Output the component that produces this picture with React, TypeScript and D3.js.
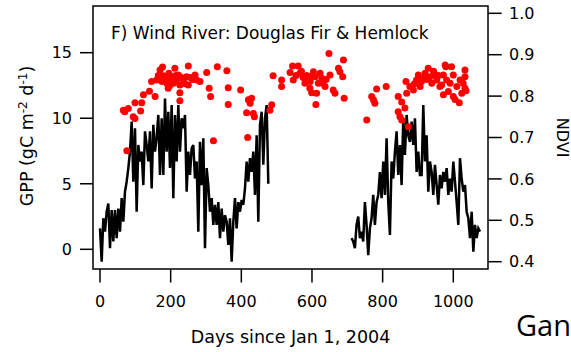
import React from "react";
import * as d3 from "d3";

// Daily GPP (gC m-2 d-1), two measurement periods sampled evenly between start and end day
const gppSeg1Start = 0;
const gppSeg1End = 476.4;
const gppSeg1 = [
  1.6, -0.95, 2.37, 1.35, 2.87, 3.5, 0.08, 3.0, 0.6, 3.0,
  0.85, 3.1, 1.35, 3.9, 2.1, 4.4, 5.16, 6.2, 7.45, 9.75,
  5.16, 9.24, 2.87, 7.96, 6.7, 7.45, 4.9, 9.0, 7.96, 6.7,
  9.0, 4.65, 9.5, 7.45, 8.5, 10.25, 5.67, 10.0, 5.67, 11.5,
  7.45, 10.5, 6.2, 11.0, 3.9, 10.25, 6.7, 11.0, 7.45, 10.0,
  9.24, 10.25, 4.4, 7.45, 5.67, 7.7, 7.96, 5.4, 6.7, 1.35,
  8.2, 4.9, 8.47, 0.08, 6.2, 4.9, 2.87, 3.9, 1.86, 3.4,
  1.86, 3.6, 0.85, 3.1, 1.35, 2.6, 2.1, 0.33, 2.37, -0.95,
  2.1, 3.9, 1.6, 3.6, 2.87, 3.76, 3.4, 4.65, 6.7, 5.16,
  6.95, 5.9, 7.45, 4.15, 8.7, 2.1, 9.5, 10.5, 6.45, 10.0,
  11.0, 5.0,
];

const gppSeg2Start = 712;
const gppSeg2End = 1075.6;
const gppSeg2 = [
  0.85, 0.6, 0.08, 1.86, 2.5, 0.85, 1.35, 0.6, 3.6, 1.86,
  -0.44, 1.6, 2.37, 4.15, 1.86, 3.6, 4.15, 5.9, 3.9, 6.7,
  4.15, 8.47, 3.6, 1.1, 6.7, 5.4, 7.45, 9.0, 5.67, 7.96,
  4.9, 10.0, 7.2, 10.25, 8.7, 8.2, 9.75, 7.96, 10.0, 5.9,
  7.45, 5.67,
  5.67, 11.0, 6.7, 8.7, 4.4, 6.7, 5.9, 4.15, 6.45, 4.9,
  3.4, 5.67, 4.65, 5.9, 5.16, 6.2, 4.15, 5.4, 4.4, 6.7,
  5.16, 3.6, 1.86, 6.95, 5.4, 4.4, 4.9, 2.87, 2.37, 0.85,
  2.87, -0.18, 1.86, 0.85, 1.6, 1.35,
];

// NDVI observations: [day, ndvi]
const ndvi2004: [number, number][] = [
  [66, 0.766], [70, 0.762], [76, 0.668], [80, 0.77], [94, 0.75], [99, 0.746],
  [99, 0.784], [115, 0.764], [118, 0.784], [123, 0.803], [140, 0.812],
  [146, 0.835], [156, 0.799], [160, 0.839], [165, 0.85], [170, 0.863],
  [175, 0.835], [177, 0.87], [179, 0.849], [185, 0.843], [189, 0.831],
  [193, 0.819], [195, 0.855], [197, 0.825], [198, 0.84], [203, 0.847],
  [208, 0.831], [212, 0.867], [215, 0.85], [217, 0.839], [222, 0.851],
  [226, 0.827], [226, 0.808], [226, 0.789], [230, 0.845], [236, 0.841],
  [240, 0.83], [245, 0.847], [250, 0.873], [250, 0.827], [255, 0.845],
  [262, 0.84], [269, 0.851], [274, 0.839], [283, 0.835], [302, 0.857],
  [309, 0.819], [313, 0.799], [321, 0.692], [332, 0.871], [359, 0.861],
  [363, 0.82], [363, 0.78], [398, 0.815], [415, 0.76], [418, 0.7],
  [420, 0.791], [425, 0.783], [429, 0.795], [434, 0.758], [437, 0.75],
  [481, 0.766], [486, 0.779], [490, 0.849],
];

const ndvi2005: [number, number][] = [
  [514, 0.839], [514, 0.823], [538, 0.857], [545, 0.873], [547, 0.839],
  [555, 0.85], [561, 0.873], [566, 0.855], [570, 0.86], [575, 0.845],
  [580, 0.831], [585, 0.85], [590, 0.841], [594, 0.819], [595, 0.835],
  [599, 0.808], [600, 0.85], [604, 0.859], [609, 0.847], [611, 0.78],
  [613, 0.807], [618, 0.831], [623, 0.855], [628, 0.843], [630, 0.831],
  [637, 0.823], [640, 0.84], [648, 0.903], [651, 0.851], [660, 0.815],
  [665, 0.807], [675, 0.867], [679, 0.859], [687, 0.847], [689, 0.887],
  [691, 0.795],
];

const ndvi2006: [number, number][] = [
  [755, 0.742], [769, 0.799], [774, 0.791], [778, 0.783], [783, 0.817],
  [810, 0.823], [844, 0.799], [844, 0.762], [849, 0.75], [854, 0.786],
  [854, 0.742], [863, 0.771], [866, 0.835], [868, 0.807], [873, 0.726],
  [877, 0.823], [887, 0.815], [890, 0.83], [896, 0.839], [901, 0.851],
  [906, 0.823], [910, 0.835], [915, 0.843], [920, 0.855], [925, 0.84],
  [929, 0.867], [934, 0.847], [939, 0.831], [944, 0.86], [948, 0.851],
  [953, 0.839], [958, 0.85], [962, 0.823], [967, 0.827], [972, 0.851],
  [972, 0.803], [977, 0.875], [979, 0.871], [981, 0.839], [986, 0.811],
  [991, 0.831], [995, 0.871], [1000, 0.851], [1000, 0.799], [1005, 0.792],
  [1010, 0.823], [1017, 0.784], [1019, 0.839], [1024, 0.807], [1028, 0.831],
  [1033, 0.863], [1033, 0.847], [1033, 0.819], [1036, 0.813],
];

const xTicks = [0, 200, 400, 600, 800, 1000];
const gppTicks = [0, 5, 10, 15];
const ndviTicks = [0.4, 0.5, 0.6, 0.7, 0.8, 0.9, 1.0];

const titleText = "F) Wind River: Douglas Fir & Hemlock";
const xTitle = "Days since Jan 1, 2004";

const W = 571;
const H = 352;
const frame = { left: 93, right: 488, top: 6, bottom: 269 };
const FONT = "'DejaVu Sans', 'Liberation Sans', sans-serif";

function spread(start: number, end: number, values: number[]) {
  const step = (end - start) / (values.length - 1);
  return values.map((v, i) => [start + i * step, v] as [number, number]);
}

export default function App() {
  const x = d3.scaleLinear().domain([0, 1000]).range([100, 453.3]);
  const yL = d3.scaleLinear().domain([0, 15]).range([249.3, 52.7]);
  const yR = d3.scaleLinear().domain([0.4, 1.0]).range([261.7, 13.3]);

  const line = d3
    .line<[number, number]>()
    .x((d) => x(d[0]))
    .y((d) => yL(d[1]));

  const seg1 = spread(gppSeg1Start, gppSeg1End, gppSeg1);
  const seg2 = spread(gppSeg2Start, gppSeg2End, gppSeg2);
  const ndviAll = [...ndvi2004, ...ndvi2005, ...ndvi2006];

  const fs = 16;
  const titleFs = 17;
  const axisTitleFs = 17.5;

  return (
    <svg
      width={W}
      height={H}
      style={{ position: "absolute", left: 0, top: 0, background: "#fff" }}
      fontFamily={FONT}
    >
      <rect x={0} y={0} width={W} height={H} fill="#fff" />

      {/* GPP lines */}
      <path d={line(seg1) || ""} fill="none" stroke="#000" strokeWidth={2.5} strokeLinejoin="miter" />
      <path d={line(seg2) || ""} fill="none" stroke="#000" strokeWidth={2.5} strokeLinejoin="miter" />

      {/* NDVI points */}
      {ndviAll.map((d, i) => (
        <circle key={i} cx={x(d[0])} cy={yR(d[1])} r={3.5} fill="#ff0000" />
      ))}

      {/* frame */}
      <rect
        x={frame.left}
        y={frame.top}
        width={frame.right - frame.left}
        height={frame.bottom - frame.top}
        fill="none"
        stroke="#000"
        strokeWidth={1.5}
      />

      {/* left axis */}
      {gppTicks.map((t) => (
        <g key={"l" + t}>
          <line x1={80} x2={frame.left} y1={yL(t)} y2={yL(t)} stroke="#000" strokeWidth={1.5} />
          <text x={72} y={yL(t)} dy="0.36em" textAnchor="end" fontSize={fs}>
            {t}
          </text>
        </g>
      ))}

      {/* right axis */}
      {ndviTicks.map((t) => (
        <g key={"r" + t}>
          <line x1={frame.right} x2={501.7} y1={yR(t)} y2={yR(t)} stroke="#000" strokeWidth={1.5} />
          <text x={509} y={yR(t)} dy="0.36em" textAnchor="start" fontSize={fs}>
            {t.toFixed(1)}
          </text>
        </g>
      ))}

      {/* bottom axis */}
      {xTicks.map((t) => (
        <g key={"b" + t}>
          <line x1={x(t)} x2={x(t)} y1={frame.bottom} y2={282.5} stroke="#000" strokeWidth={1.5} />
          <text x={x(t)} y={307} textAnchor="middle" fontSize={fs}>
            {t}
          </text>
        </g>
      ))}

      {/* title */}
      <text x={111} y={39.3} fontSize={titleFs}>
        {titleText}
      </text>

      {/* axis titles */}
      <text x={290.5} y={343} textAnchor="middle" fontSize={axisTitleFs}>
        {xTitle}
      </text>
      <text transform="translate(33,136) rotate(-90)" textAnchor="middle" fontSize={axisTitleFs}>
        GPP (gC m
        <tspan dy={-6.5} fontSize={12}>-2</tspan>
        <tspan dy={6.5}> d</tspan>
        <tspan dy={-6.5} fontSize={12}>-1</tspan>
        <tspan dy={6.5}>)</tspan>
      </text>
      <text transform="translate(556.5,137.5) rotate(90)" textAnchor="middle" fontSize={fs}>
        NDVI
      </text>

      <text x={516} y={336} fontSize={29} fontFamily="'Open Sans', sans-serif">
        Gan
      </text>
    </svg>
  );
}
